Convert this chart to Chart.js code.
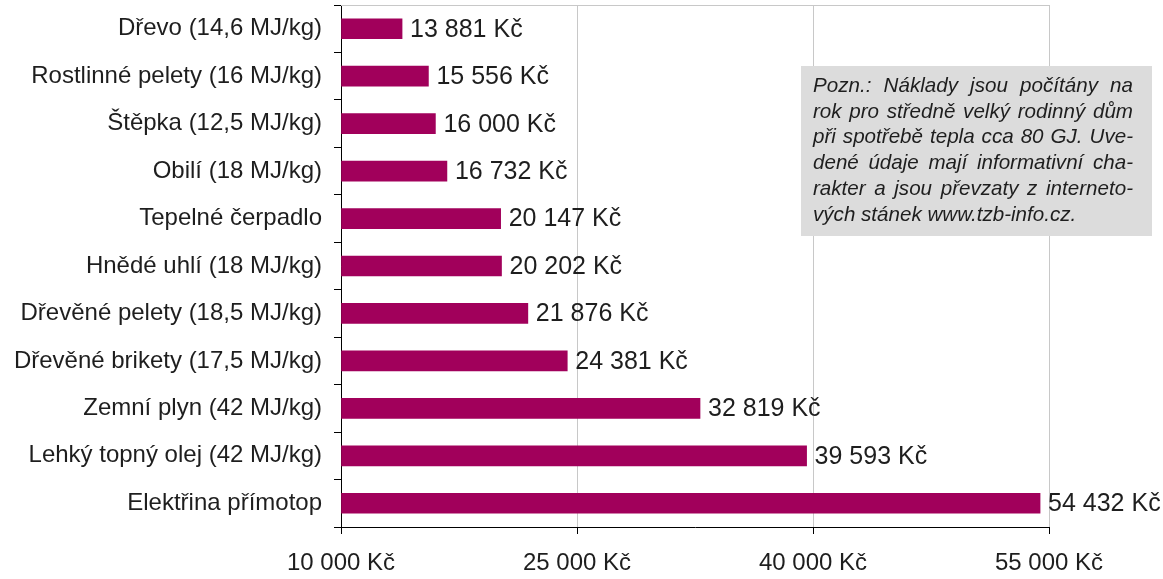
<!DOCTYPE html>
<html>
<head>
<meta charset="utf-8">
<script src="https://cdn.jsdelivr.net/npm/chart.js@4"></script>
<style>
    html, body { margin: 0; padding: 0; background: #fff; }
    #wrap { width: 1163px; height: 579px; }
</style>
</head>
<body>
<div id="wrap"><canvas id="myChart" width="1163" height="579"></canvas></div>
<script>
const categories = [
    "Dřevo (14,6 MJ/kg)",
    "Rostlinné pelety (16 MJ/kg)",
    "Štěpka (12,5 MJ/kg)",
    "Obilí (18 MJ/kg)",
    "Tepelné čerpadlo",
    "Hnědé uhlí (18 MJ/kg)",
    "Dřevěné pelety (18,5 MJ/kg)",
    "Dřevěné brikety (17,5 MJ/kg)",
    "Zemní plyn (42 MJ/kg)",
    "Lehký topný olej (42 MJ/kg)",
    "Elektřina přímotop"
];
const costs = [13881, 15556, 16000, 16732, 20147, 20202, 21876, 24381, 32819, 39593, 54432];
const tickValues = [10000, 25000, 40000, 55000];
const noteLines = [
    "Pozn.: Náklady jsou počítány na",
    "rok pro středně velký rodinný dům",
    "při spotřebě tepla cca 80 GJ. Uve-",
    "dené údaje mají informativní cha-",
    "rakter a jsou převzaty z interneto-",
    "vých stánek www.tzb-info.cz."
];

const FONT = "'Liberation Sans', Arial, sans-serif";
const TEXT = "#1e1e1e";

function formatKc(n) {
    return String(n).replace(/\B(?=(\d{3})+(?!\d))/g, " ") + " Kč";
}

// value labels, top border and the note box
const extras = {
    id: "extras",
    afterDatasetsDraw(chart) {
        const ctx = chart.ctx;
        const area = chart.chartArea;
        const meta = chart.getDatasetMeta(0);

        ctx.save();
        ctx.strokeStyle = "#c8c8c8";
        ctx.lineWidth = 1;
        ctx.beginPath();
        ctx.moveTo(area.left, area.top + 0.5);
        ctx.lineTo(area.right, area.top + 0.5);
        ctx.stroke();

        ctx.fillStyle = TEXT;
        ctx.font = "25px " + FONT;
        ctx.textBaseline = "middle";
        ctx.textAlign = "left";
        meta.data.forEach((bar, i) => {
            ctx.fillText(formatKc(costs[i]), bar.x + 8, bar.y + 1);
        });

        // note box
        const bx = 801, by = 66, bw = 351, bh = 170;
        ctx.fillStyle = "#dcdcdc";
        ctx.fillRect(bx, by, bw, bh);
        ctx.fillStyle = TEXT;
        ctx.font = "italic 20.6px " + FONT;
        const left = bx + 12, right = bx + bw - 19;
        noteLines.forEach((line, i) => {
            const y = 86 + i * 25.8;
            const words = line.split(" ");
            if (i === noteLines.length - 1 || words.length < 2) {
                ctx.fillText(line, left, y);
                return;
            }
            const widths = words.map(w => ctx.measureText(w).width);
            const total = widths.reduce((a, b) => a + b, 0);
            const gap = (right - left - total) / (words.length - 1);
            let x = left;
            words.forEach((w, j) => {
                ctx.fillText(w, x, y);
                x += widths[j] + gap;
            });
        });
        ctx.restore();
    }
};

const ctx = document.getElementById("myChart").getContext("2d");

const myChart = new Chart(ctx, {
    type: "bar",
    data: {
        labels: categories,
        datasets: [
            {
                data: costs,
                base: 10000,
                backgroundColor: "#a1005b",
                barThickness: 20
            }
        ]
    },
    options: {
        indexAxis: "y",
        responsive: false,
        animation: false,
        layout: { padding: { top: 5, right: 114, left: 0, bottom: 0 } },
        plugins: {
            legend: { display: false },
            tooltip: { enabled: false }
        },
        scales: {
            x: {
                min: 10000,
                max: 55000,
                afterBuildTicks: scale => {
                    scale.ticks = tickValues.map(v => ({ value: v }));
                },
                afterFit: scale => {
                    scale.height = 52;
                    scale.paddingLeft = 0;
                    scale.paddingRight = 0;
                },
                grid: {
                    color: "#c8c8c8",
                    tickColor: "#000",
                    tickLength: 7
                },
                border: { color: "#000" },
                ticks: {
                    color: TEXT,
                    font: { family: FONT, size: 24 },
                    padding: 15,
                    maxRotation: 0,
                    callback: v => formatKc(v)
                }
            },
            y: {
                afterFit: scale => {
                    scale.width = 341;
                    scale.paddingTop = 0;
                    scale.paddingBottom = 0;
                },
                grid: {
                    offset: true,
                    drawOnChartArea: false,
                    color: "#000",
                    tickLength: 7
                },
                border: { color: "#000" },
                ticks: {
                    color: TEXT,
                    font: { family: FONT, size: 24 },
                    padding: 12
                }
            }
        }
    },
    plugins: [extras]
});
</script>
</body>
</html>
